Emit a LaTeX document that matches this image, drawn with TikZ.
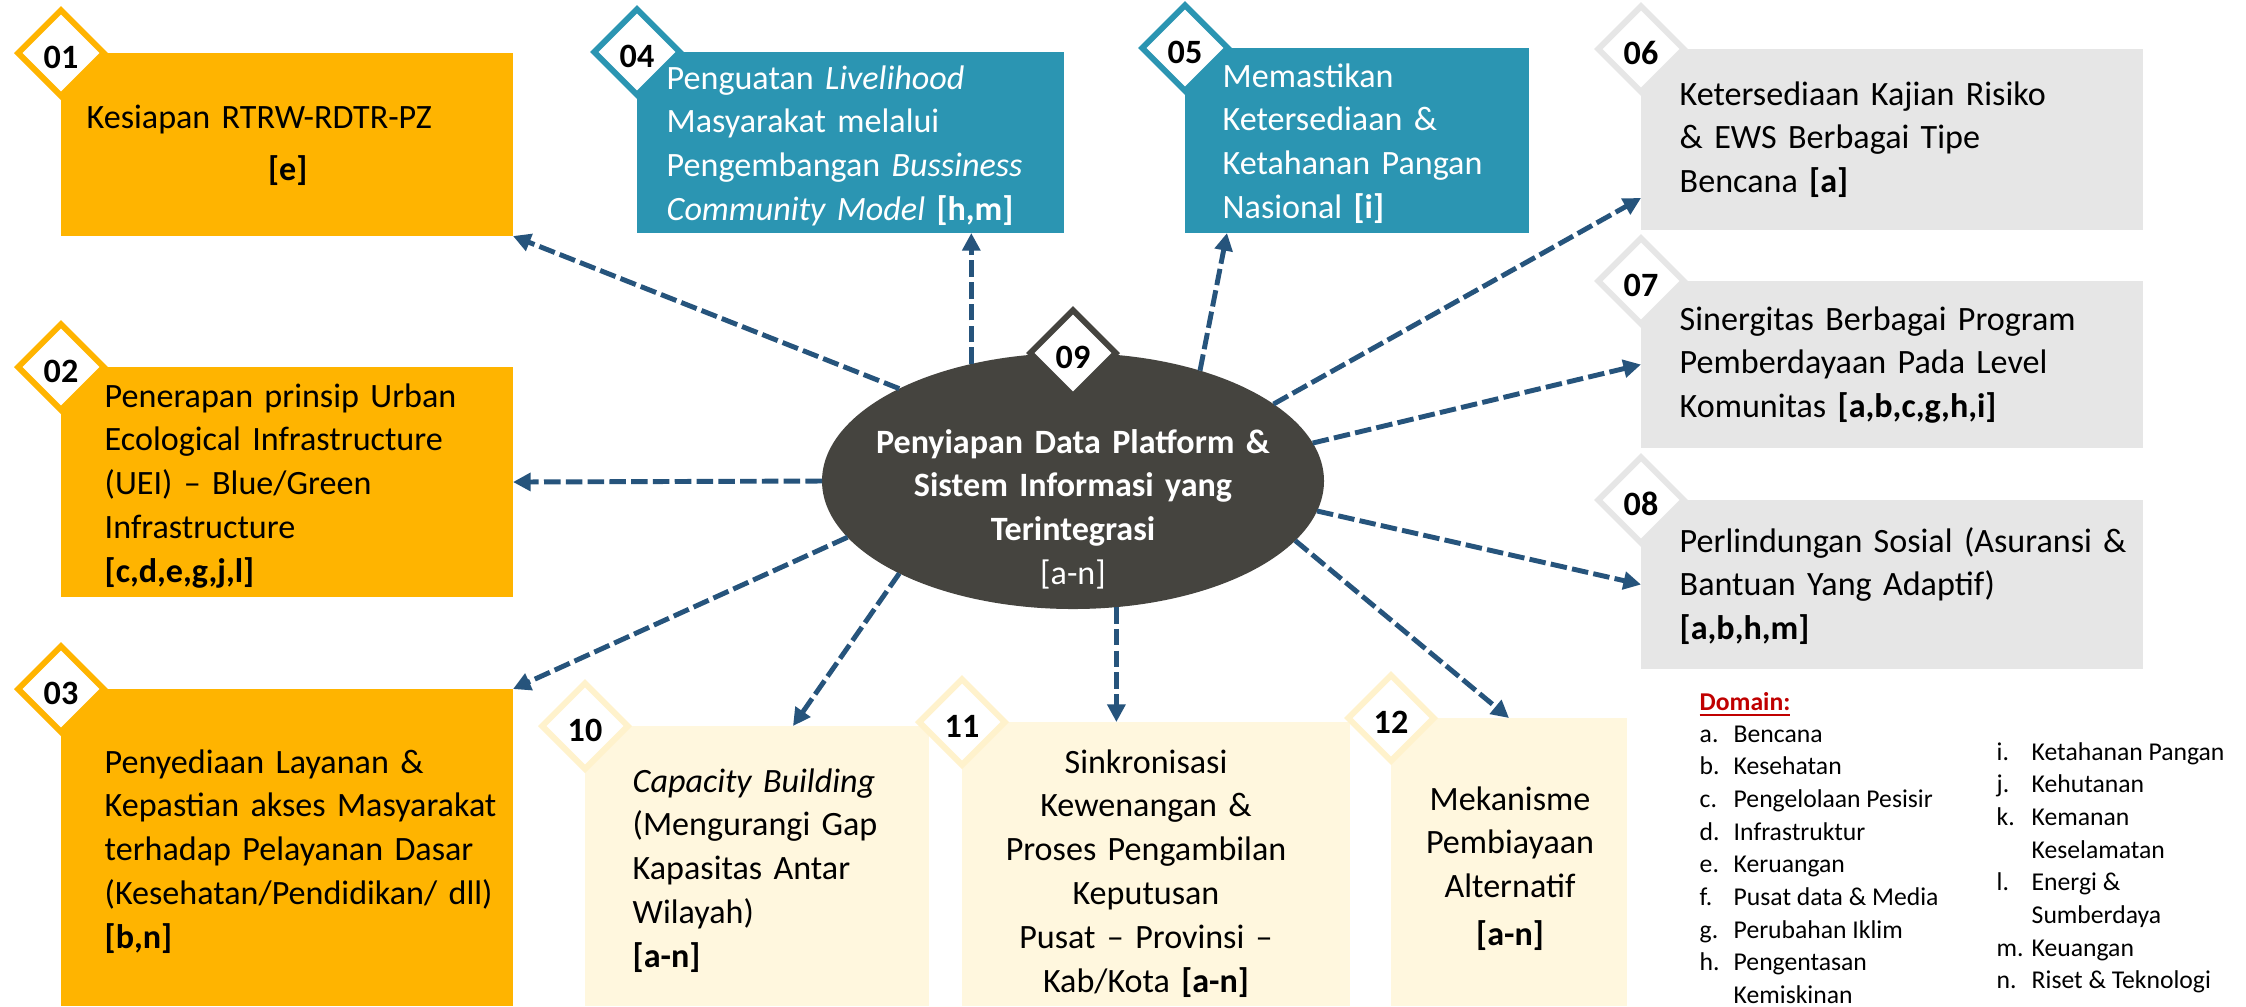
\documentclass[tikz,border=0pt]{standalone}
\usepackage{fontspec}
\setmainfont{Carlito}
\usepackage{tikz}
\usetikzlibrary{arrows.meta,positioning,shapes.geometric}

\definecolor{customorange}{RGB}{255, 180, 0}
\definecolor{customteal}{RGB}{43, 149, 178}
\definecolor{customgrey}{RGB}{230, 230, 230}
\definecolor{customcream}{RGB}{255, 247, 222}
\definecolor{customcreamline}{RGB}{255, 242, 204}
\definecolor{customnavy}{RGB}{38, 84, 124}
\definecolor{customcharcoal}{RGB}{69, 68, 63}
\definecolor{customred}{RGB}{192, 0, 0}

\begin{document}
\begin{tikzpicture}[
    box/.style={rectangle, anchor=north west, inner sep=0, outer sep=0},
    tag/.style={diamond, draw, fill=white, line width=1.7pt, minimum width=0.88cm,
        minimum height=0.88cm, inner sep=0, text height=8.9pt, text depth=0pt,
        font=\fontsize{9.7}{12}\selectfont\bfseries},
    txt/.style={anchor=base west, inner sep=0, align=left, font=\fontsize{9.7}{12.5}\selectfont},
    ctxt/.style={txt, anchor=base, align=center},
    link/.style={customnavy, line width=1.4pt, dash pattern=on 4.7pt off 1.5pt,
        -{Triangle[length=5pt, width=5pt]}},
    legend/.style={anchor=base west, inner sep=0, font=\fontsize{7.3}{9.3}\selectfont}
]
    \useasboundingbox (0,0) rectangle (22.46,-10.06);
    \fill[white] (0,0) rectangle (22.46,-10.06);

    % boxes
    \node[box, fill=customorange, minimum width=4.52cm, minimum height=1.83cm] (b01) at (0.61,-0.53) {};
    \node[box, fill=customorange, minimum width=4.52cm, minimum height=2.30cm] (b02) at (0.61,-3.67) {};
    \node[box, fill=customorange, minimum width=4.52cm, minimum height=3.17cm] (b03) at (0.61,-6.89) {};
    \node[box, fill=customteal, minimum width=4.27cm, minimum height=1.81cm] (b04) at (6.37,-0.52) {};
    \node[box, fill=customteal, minimum width=3.44cm, minimum height=1.85cm] (b05) at (11.85,-0.48) {};
    \node[box, fill=customgrey, minimum width=5.02cm, minimum height=1.81cm] (b06) at (16.41,-0.49) {};
    \node[box, fill=customgrey, minimum width=5.02cm, minimum height=1.67cm] (b07) at (16.41,-2.81) {};
    \node[box, fill=customgrey, minimum width=5.02cm, minimum height=1.69cm] (b08) at (16.41,-5.00) {};
    \node[box, fill=customcream, minimum width=3.44cm, minimum height=2.80cm] (b10) at (5.85,-7.26) {};
    \node[box, fill=customcream, minimum width=3.88cm, minimum height=2.84cm] (b11) at (9.62,-7.22) {};
    \node[box, fill=customcream, minimum width=2.36cm, minimum height=2.88cm] (b12) at (13.91,-7.18) {};

    % number tags on the corners
    \node[tag, draw=customorange] (d01) at (b01.north west) {01};
    \node[tag, draw=customorange] (d02) at (b02.north west) {02};
    \node[tag, draw=customorange] (d03) at (b03.north west) {03};
    \node[tag, draw=customteal] (d04) at (b04.north west) {04};
    \node[tag, draw=customteal] (d05) at (b05.north west) {05};
    \node[tag, draw=customgrey] (d06) at (b06.north west) {06};
    \node[tag, draw=customgrey] (d07) at (b07.north west) {07};
    \node[tag, draw=customgrey] (d08) at (b08.north west) {08};
    \node[tag, draw=customcreamline] (d10) at (b10.north west) {10};
    \node[tag, draw=customcreamline] (d11) at (b11.north west) {11};
    \node[tag, draw=customcreamline] (d12) at (b12.north west) {12};

    % centre
    \node[ellipse, fill=customcharcoal, minimum width=5.02cm, minimum height=2.56cm,
        inner sep=0, outer sep=0] (ell) at (10.73,-4.81) {};
    \node[tag, draw=customcharcoal] (d09) at (ell.north) {09};

    \draw[link] (ell.152) -- (b01.south east);
    \draw[link] (ell.131) -- (ell.131 |- b04.south);
    \draw[link] (ell.41) -- ([xshift=0.42cm]b05.south west);
    \draw[link] (ell.21) -- ([yshift=0.32cm]b06.south west);
    \draw[link] (ell.9) -- (b07.west);
    \draw[link] (ell.-7) -- (b08.west);
    \draw[link] (ell.-15) -- (b12.north);
    \draw[link] (ell.-71) -- (ell.-71 |- b11.north);
    \draw[link] (ell.208) -- ([xshift=0.36cm]b10.north);
    \draw[link] (ell.194) -- (b03.north east);
    \draw[link] (ell.180) -- (b02.east);

    % texts
    \node[txt, text width=4.02cm] (t01) at (0.86,-1.28)
        {Kesiapan RTRW-RDTR-PZ\\[2.3pt] \makebox[\linewidth]{\textbf{[e]}}};
    \node[txt, text width=4.3cm] (t02) at (1.04,-4.07)
        {Penerapan prinsip Urban\\ Ecological Infrastructure\\ (UEI) -- Blue/Green\\ Infrastructure\\ \textbf{[c,d,e,g,j,l]}};
    \node[txt, text width=4.3cm] (t03) at (1.04,-7.73)
        {Penyediaan Layanan \&\\ Kepastian akses Masyarakat\\ terhadap Pelayanan Dasar\\ (Kesehatan/Pendidikan/ dll)\\ \textbf{[b,n]}};
    \node[txt, text width=4.2cm, text=white] (t04) at (6.66,-0.89)
        {Penguatan \textit{Livelihood}\\ Masyarakat melalui\\ Pengembangan \textit{Bussiness}\\ \textit{Community Model} \textbf{[h,m]}};
    \node[txt, text width=3.2cm, text=white] (t05) at (12.22,-0.87)
        {Memastikan\\ Ketersediaan \&\\ Ketahanan Pangan\\ Nasional \textbf{[i]}};
    \node[txt, text width=4.6cm] (t06) at (16.79,-1.05)
        {Ketersediaan Kajian Risiko\\ \& EWS Berbagai Tipe\\ Bencana \textbf{[a]}};
    \node[txt, text width=4.6cm] (t07) at (16.79,-3.30)
        {Sinergitas Berbagai Program\\ Pemberdayaan Pada Level\\ Komunitas \textbf{[a,b,c,g,h,i]}};
    \node[txt, text width=4.6cm] (t08) at (16.79,-5.52)
        {Perlindungan Sosial (Asuransi \&\\ Bantuan Yang Adaptif)\\ \textbf{[a,b,h,m]}};
    \node[txt, text width=3.0cm] (t10) at (6.32,-7.92)
        {\textit{Capacity Building}\\ (Mengurangi Gap\\ Kapasitas Antar\\ Wilayah)\\ \textbf{[a-n]}};
    \node[ctxt, text width=3.8cm] (t11) at (11.46,-7.73)
        {Sinkronisasi\\ Kewenangan \&\\ Proses Pengambilan\\ Keputusan\\ Pusat -- Provinsi --\\ Kab/Kota \textbf{[a-n]}};
    \node[ctxt, text width=2.2cm] (t12) at (15.10,-8.10)
        {Mekanisme\\ Pembiayaan\\ Alternatif\\[1pt] \textbf{[a-n]}};
    \node[ctxt, text width=4.4cm, text=white] (tell) at (10.73,-4.53)
        {\textbf{Penyiapan Data Platform \&}\\ \textbf{Sistem Informasi yang}\\ \textbf{Terintegrasi}\\ {[a-n]}};

    % domain legend
    \node[legend, text=customred, font=\fontsize{7.3}{9.3}\selectfont\bfseries] (dom) at (16.99,-7.10)
        {\underline{Domain:}};
    \node[legend] (doma) at (16.99,-7.42) {\begin{tabular}[t]{@{}p{0.34cm}@{}l@{}}
        a. & Bencana\\ b. & Kesehatan\\ c. & Pengelolaan Pesisir\\ d. & Infrastruktur\\
        e. & Keruangan\\ f. & Pusat data \& Media\\ g. & Perubahan Iklim\\
        h. & Pengentasan\\ & Kemiskinan
    \end{tabular}};
    \node[legend] (domb) at (19.96,-7.60) {\begin{tabular}[t]{@{}p{0.35cm}@{}l@{}}
        i. & Ketahanan Pangan\\ j. & Kehutanan\\ k. & Kemanan\\ & Keselamatan\\
        l. & Energi \&\\ & Sumberdaya\\ m. & Keuangan\\ n. & Riset \& Teknologi
    \end{tabular}};
\end{tikzpicture}
\end{document}
